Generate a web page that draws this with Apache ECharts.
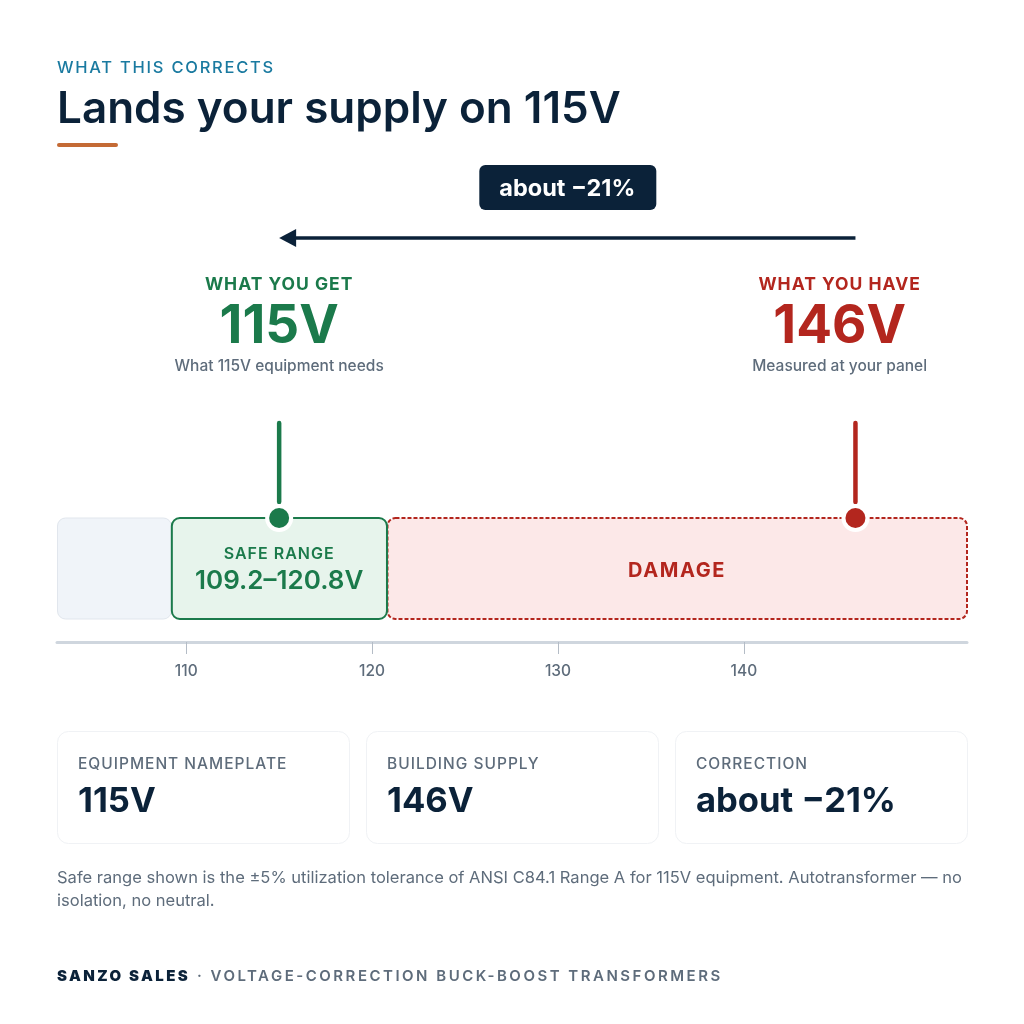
<!DOCTYPE html>
<html>
<head>
<meta charset="utf-8">
<title>Lands your supply on 115V</title>
<script src="https://cdn.jsdelivr.net/npm/echarts@6/dist/echarts.min.js"></script>
<style>
html, body { margin: 0; padding: 0; background: #fff; }
#chart { width: 1024px; height: 1024px; }
</style>
</head>
<body>
<div id="chart"></div>
<script>
// voltage scale
var axisMin = 103.05;
var axisMax = 152;
var axisTicks = [110, 120, 130, 140];

// bands on the scale
var zoneStarts = [103.05, 120.8, 109.2];
var zoneEnds = [109.2, 152, 120.8];

// what you get / what you have
var markerVolts = [115, 146];
var markerLabelVolts = [115, 145.15]; // the right hand text sits a bit left of its stem
var markerHeads = ['WHAT YOU GET', 'WHAT YOU HAVE'];
var markerNotes = ['What 115V equipment needs', 'Measured at your panel'];
var correctionLabel = 'about \u221221%';

// cards under the scale
var cardLabels = ['EQUIPMENT NAMEPLATE', 'BUILDING SUPPLY', 'CORRECTION'];
var cardValues = ['115V', '146V', correctionLabel];

var FONT = 'Inter, "Noto Sans", sans-serif';
var NAVY = '#0b2239';
var GREEN = '#1b7a4b';
var RED = '#b3261e';
var GRAY = '#5e6c7b';

// canvas text has no tracking option in zrender, so it is set per string here
var tracking = {
    'WHAT THIS CORRECTS': 1.75,
    'WHAT YOU GET': 1,
    'WHAT YOU HAVE': 1,
    'SAFE RANGE': 1,
    'DAMAGE': 1.6,
    'EQUIPMENT NAMEPLATE': 1,
    'BUILDING SUPPLY': 1,
    'CORRECTION': 1,
    'SANZO SALES': 2.4,
    '\u00b7 VOLTAGE-CORRECTION BUCK-BOOST TRANSFORMERS': 2.5
};
var fillTextOrig = CanvasRenderingContext2D.prototype.fillText;
CanvasRenderingContext2D.prototype.fillText = function (text, x, y, w) {
    this.letterSpacing = (tracking[text] || 0) + 'px';
    if (w === undefined) {
        fillTextOrig.call(this, text, x, y);
    } else {
        fillTextOrig.call(this, text, x, y, w);
    }
    this.letterSpacing = '0px';
};

function textEl(x, y, text, font, fill, align) {
    return {
        type: 'text',
        x: x,
        y: y,
        style: {
            text: text,
            font: font + ' ' + FONT,
            fill: fill,
            textAlign: align || 'center',
            textVerticalAlign: 'middle'
        }
    };
}

// y axis runs in pixels above the voltage line
var bandBottom = 23;
var bandTop = 124;
var stemLow = 140;
var stemHigh = 219;
var arrowLevel = 404;

var zoneStyles = [
    { fill: '#f0f4f9', stroke: '#e1e6ed', lineWidth: 1 },
    { fill: '#fce8e8', stroke: RED, lineWidth: 2, lineDash: [4, 2] },
    { fill: '#e7f4ec', stroke: GREEN, lineWidth: 2 }
];

function renderZone(params, api) {
    var a = api.coord([api.value(0), bandTop]);
    var b = api.coord([api.value(1), bandBottom]);
    var kids = [{
        type: 'rect',
        shape: { x: a[0] + 0.5, y: a[1], width: b[0] - a[0] - 0.5, height: b[1] - a[1], r: 8 },
        style: zoneStyles[params.dataIndex]
    }];
    var cx = (a[0] + b[0]) / 2;
    var cy = (a[1] + b[1]) / 2;
    if (params.dataIndex === 1) {
        kids.push(textEl(cx, cy + 2, 'DAMAGE', '700 20px', RED));
    }
    if (params.dataIndex === 2) {
        kids.push(textEl(cx, cy - 14, 'SAFE RANGE', '600 16px', GREEN));
        kids.push(textEl(cx, cy + 13, api.value(0) + '\u2013' + api.value(1) + 'V', '600 26px', GREEN));
    }
    return { type: 'group', children: kids };
}

function renderMarker(params, api) {
    var v = api.value(0);
    var color = params.dataIndex === 0 ? GREEN : RED;
    var low = api.coord([v, stemLow]);
    var high = api.coord([v, stemHigh]);
    var dot = api.coord([v, bandTop]);
    var x = dot[0];
    var labelX = api.coord([markerLabelVolts[params.dataIndex], bandTop])[0];
    return {
        type: 'group',
        children: [
            {
                type: 'line',
                shape: { x1: x, y1: high[1], x2: x, y2: low[1] },
                style: { stroke: color, lineWidth: 4.5, lineCap: 'round' }
            },
            { type: 'circle', shape: { cx: x, cy: dot[1], r: 14 }, style: { fill: '#fff' } },
            { type: 'circle', shape: { cx: x, cy: dot[1], r: 10 }, style: { fill: color } },
            textEl(labelX, 285, markerHeads[params.dataIndex], '700 17.5px', color),
            textEl(labelX, 327, v + 'V', '700 53px', color),
            textEl(labelX, 366, markerNotes[params.dataIndex], '500 15.5px', GRAY)
        ]
    };
}

function renderArrow(params, api) {
    var from = api.coord([api.value(1), arrowLevel]);
    var to = api.coord([api.value(0), arrowLevel]);
    var midX = (from[0] + to[0]) / 2;
    return {
        type: 'group',
        children: [
            {
                type: 'line',
                shape: { x1: from[0], y1: from[1], x2: to[0] + 12, y2: to[1] },
                style: { stroke: NAVY, lineWidth: 3.5 }
            },
            {
                type: 'polygon',
                shape: { points: [[to[0], to[1]], [to[0] + 17, to[1] - 9], [to[0] + 17, to[1] + 9]] },
                style: { fill: NAVY }
            },
            {
                type: 'rect',
                shape: { x: midX - 88, y: 165, width: 177, height: 45, r: 6 },
                style: { fill: NAVY }
            },
            textEl(midX, 188.5, correctionLabel, '700 23.5px', '#fff')
        ]
    };
}

var cardEls = [];
cardLabels.forEach(function (label, i) {
    var left = 57 + i * 309;
    cardEls.push({
        type: 'rect',
        shape: { x: left + 0.5, y: 731.5, width: 292, height: 112, r: 11 },
        style: { fill: '#fff', stroke: '#f0f2f5', lineWidth: 1 }
    });
    cardEls.push({
        type: 'text', x: left + 21, y: 764,
        style: { text: label, font: '500 15.5px ' + FONT, fill: GRAY, textVerticalAlign: 'middle' }
    });
    cardEls.push({
        type: 'text', x: left + 21, y: 802,
        style: { text: cardValues[i], font: '700 34.6px ' + FONT, fill: NAVY, textVerticalAlign: 'middle' }
    });
});

function plainText(x, y, text, font, fill) {
    return {
        type: 'text', x: x, y: y,
        style: { text: text, font: font + ' ' + FONT, fill: fill, textVerticalAlign: 'middle' }
    };
}

var pageEls = [
    plainText(57, 68, 'WHAT THIS CORRECTS', '500 16.5px', '#1a7aa0'),
    plainText(57, 110, 'Lands your supply on 115V', '600 44px', NAVY),
    { type: 'rect', shape: { x: 57, y: 143, width: 61, height: 4, r: 2 }, style: { fill: '#c46a35' } },
    {
        type: 'text', x: 57, y: 890,
        style: {
            text: 'Safe range shown is the \u00b15% utilization tolerance of ANSI C84.1 Range A for 115V equipment. Autotransformer \u2014 no\nisolation, no neutral.',
            font: '400 16.55px ' + FONT,
            fill: GRAY,
            lineHeight: 23,
            textVerticalAlign: 'middle'
        }
    },
    plainText(57, 976, 'SANZO SALES', '900 15px', NAVY),
    plainText(197, 976, '\u00b7 VOLTAGE-CORRECTION BUCK-BOOST TRANSFORMERS', '600 15px', GRAY)
].concat(cardEls);

var myChart = echarts.init(document.getElementById('chart'), null, { renderer: 'canvas' });

var option = {
    animation: false,
    backgroundColor: '#fff',
    textStyle: { fontFamily: FONT },
    graphic: { elements: pageEls },
    grid: { left: 57, right: 57, top: 238, bottom: 382 },
    xAxis: {
        type: 'value',
        min: axisMin,
        max: axisMax,
        splitLine: { show: false },
        axisLine: { show: true, onZero: false, lineStyle: { color: '#cfd6de', width: 3 } },
        axisTick: { show: true, length: 12, customValues: axisTicks, lineStyle: { color: '#b4bcc6', width: 1 } },
        axisLabel: { customValues: axisTicks, margin: 21, color: GRAY, fontFamily: FONT, fontSize: 15.5, fontWeight: 500 }
    },
    yAxis: { type: 'value', min: 0, max: arrowLevel, show: false },
    series: [
        {
            type: 'custom',
            silent: true,
            renderItem: renderZone,
            encode: { x: [0, 1] },
            data: zoneStarts.map(function (s, i) { return [s, zoneEnds[i]]; })
        },
        {
            type: 'custom',
            silent: true,
            renderItem: renderMarker,
            encode: { x: 0 },
            data: markerVolts.map(function (v) { return [v]; })
        },
        {
            type: 'custom',
            silent: true,
            renderItem: renderArrow,
            encode: { x: [0, 1] },
            data: [markerVolts]
        }
    ]
};

myChart.setOption(option);
window.addEventListener('resize', myChart.resize);
</script>
</body>
</html>
